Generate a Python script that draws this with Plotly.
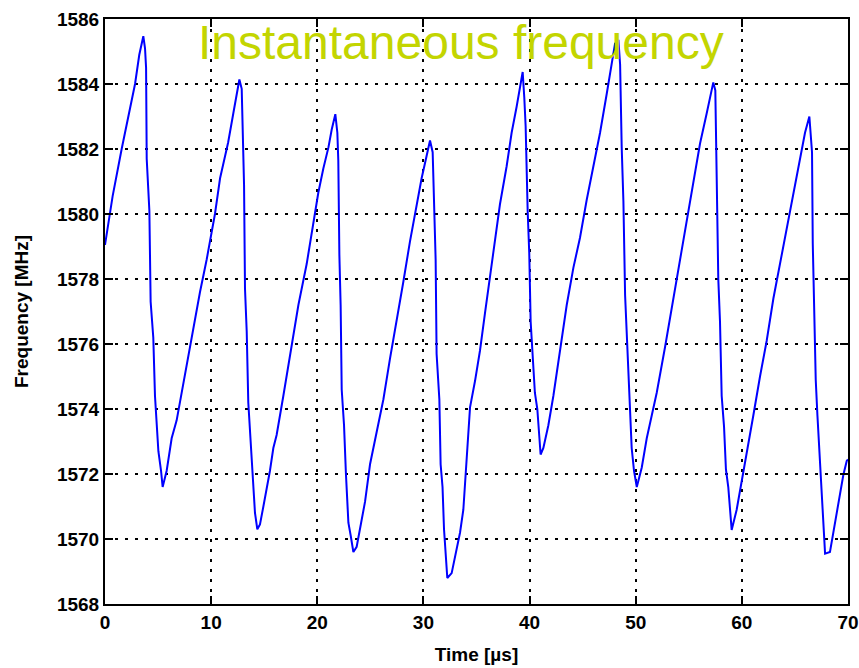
import plotly.graph_objects as go

# time [us] and instantaneous frequency [MHz]
time_us = [
    0.0, 0.72, 1.57, 2.36, 2.83, 3.23, 3.61,
    3.77, 3.87, 3.93, 4.18, 4.30, 4.55, 4.71, 5.03, 5.28, 5.43,
    5.81, 6.28, 6.75, 7.22, 8.01, 8.95, 9.58, 10.05, 10.36, 10.84, 11.60, 12.09, 12.40, 12.66,
    12.88, 12.97, 13.10, 13.19, 13.35, 13.50, 13.66, 13.90, 14.13, 14.35, 14.60,
    14.92, 15.54, 15.86, 16.17, 16.80, 17.59, 18.22, 19.00, 19.63, 20.10, 20.57, 21.05, 21.36, 21.70,
    21.89, 21.98, 22.08, 22.20, 22.30, 22.52, 22.70, 22.93, 23.15, 23.40, 23.71,
    24.03, 24.50, 24.97, 25.60, 26.23, 26.85, 27.48, 28.10, 28.73, 29.36, 29.83, 30.24, 30.62,
    30.87, 30.99, 31.15, 31.24, 31.50, 31.62, 31.80, 31.94, 32.25, 32.66,
    32.98, 33.45, 33.76, 34.07, 34.39, 34.86, 35.33, 35.80, 36.27, 36.74, 37.21, 37.84, 38.31, 38.78, 39.10, 39.35,
    39.50, 39.63, 39.82, 39.97, 40.10, 40.29, 40.50, 40.73, 40.89, 41.04, 41.30,
    41.77, 42.24, 42.87, 43.50, 44.13, 44.75, 45.38, 46.01, 46.64, 47.27, 47.74, 48.05, 48.37,
    48.53, 48.68, 48.84, 49.00, 49.15, 49.40, 49.62, 49.84, 50.10,
    50.57, 51.04, 51.51, 51.98, 52.76, 53.55, 54.17, 54.80, 55.43, 56.06, 56.69, 57.06, 57.31,
    57.50, 57.63, 57.78, 57.94, 58.10, 58.32, 58.50, 58.72, 58.88, 59.04,
    59.51, 59.98, 60.46, 61.08, 61.71, 62.34, 62.97, 63.60, 64.23, 64.85, 65.48, 65.95, 66.36,
    66.49, 66.61, 66.68, 66.80, 66.96, 67.12, 67.37, 67.52, 67.68, 67.84, 68.30,
    68.62, 69.10, 69.56, 69.88, 70.0,
]
freq_mhz = [
    1579.05, 1580.55, 1582.0, 1583.2, 1584.0, 1584.9, 1585.47,
    1585.1, 1584.5, 1581.7, 1580.1, 1577.3, 1576.2, 1574.4, 1572.7, 1572.1, 1571.6,
    1572.1, 1573.1, 1573.65, 1574.5, 1575.8, 1577.6, 1578.6, 1579.5, 1580.0, 1581.1, 1582.2, 1583.1, 1583.7, 1584.14,
    1583.85, 1582.3, 1580.9, 1577.7, 1576.4, 1574.2, 1573.3, 1572.1, 1570.8, 1570.3, 1570.45,
    1571.0, 1572.1, 1572.8, 1573.2, 1574.4, 1575.96, 1577.2, 1578.46, 1579.7, 1580.66, 1581.4, 1582.05, 1582.6, 1583.07,
    1582.5, 1581.65, 1578.75, 1577.2, 1574.6, 1573.5, 1572.0, 1570.5, 1570.1, 1569.6, 1569.76,
    1570.3, 1571.15, 1572.3, 1573.3, 1574.3, 1575.55, 1576.7, 1577.9, 1579.15, 1580.3, 1581.1, 1581.7, 1582.26,
    1581.9, 1580.1, 1578.6, 1575.7, 1574.3, 1572.3, 1571.6, 1570.3, 1568.8, 1568.95,
    1569.5, 1570.2, 1570.9, 1572.5, 1574.05, 1574.86, 1575.8, 1576.95, 1578.1, 1579.27, 1580.3, 1581.47, 1582.5, 1583.3, 1583.9, 1584.37,
    1583.6, 1582.7, 1580.1, 1578.8, 1576.7, 1575.8, 1574.5, 1574.0, 1573.3, 1572.6, 1572.8,
    1573.5, 1574.4, 1575.8, 1577.2, 1578.35, 1579.27, 1580.43, 1581.47, 1582.5, 1583.7, 1584.66, 1585.24, 1585.36,
    1584.6, 1582.05, 1580.4, 1577.5, 1576.4, 1574.5, 1572.8, 1572.1, 1571.6,
    1572.2, 1573.1, 1573.8, 1574.5, 1575.9, 1577.4, 1578.57, 1579.73, 1581.0, 1582.17, 1583.1, 1583.73, 1584.05,
    1583.8, 1581.24, 1578.0, 1576.7, 1574.4, 1573.46, 1572.14, 1571.6, 1570.8, 1570.28,
    1570.9, 1571.73, 1572.66, 1573.8, 1575.0, 1576.1, 1577.4, 1578.46, 1579.5, 1580.66, 1581.7, 1582.5, 1583.0,
    1582.5, 1581.9, 1579.1, 1577.5, 1574.9, 1573.8, 1572.2, 1571.55, 1570.2, 1569.55, 1569.6,
    1570.17, 1571.04, 1571.97, 1572.4, 1572.45,
]

x_ticks = [0, 10, 20, 30, 40, 50, 60, 70]
y_ticks = [1568, 1570, 1572, 1574, 1576, 1578, 1580, 1582, 1584, 1586]

font = "Liberation Sans, Arial, sans-serif"
label_font = dict(family=font, size=19, color="black", weight="bold")

fig = go.Figure()
fig.add_trace(go.Scatter(
    x=time_us, y=freq_mhz,
    mode="lines",
    line=dict(color="#0000ff", width=2),
    showlegend=False,
))

axis_style = dict(
    showline=True, linecolor="black", linewidth=2, mirror="ticks",
    ticks="inside", ticklen=8, tickwidth=2, tickcolor="black",
    showgrid=True, gridcolor="black", gridwidth=2, griddash="3px,7px",
    zeroline=False, automargin=False,
    tickfont=label_font,
)

fig.update_xaxes(
    range=[0, 70], tickvals=x_ticks,
    title=dict(text="Time [µs]", font=label_font, standoff=16),
    **axis_style,
)
fig.update_yaxes(
    range=[1568, 1586], tickvals=y_ticks,
    title=dict(text="Frequency [MHz]", font=label_font, standoff=23),
    **axis_style,
)

fig.add_annotation(
    text="Instantaneous frequency",
    xref="paper", yref="paper", x=0.479, y=0.96,
    xanchor="center", yanchor="middle", showarrow=False,
    font=dict(family=font, size=48, color="#c3d500"),
)

fig.update_layout(
    width=859, height=668,
    plot_bgcolor="white", paper_bgcolor="white",
    margin=dict(l=105, r=11, t=19, b=64),
)

# drop the default page margin so the figure fills the window exactly
fig.write_html(
    "out.html",
    config={"displayModeBar": False},
    post_script="document.body.style.margin='0';document.body.style.overflow='hidden';",
)
